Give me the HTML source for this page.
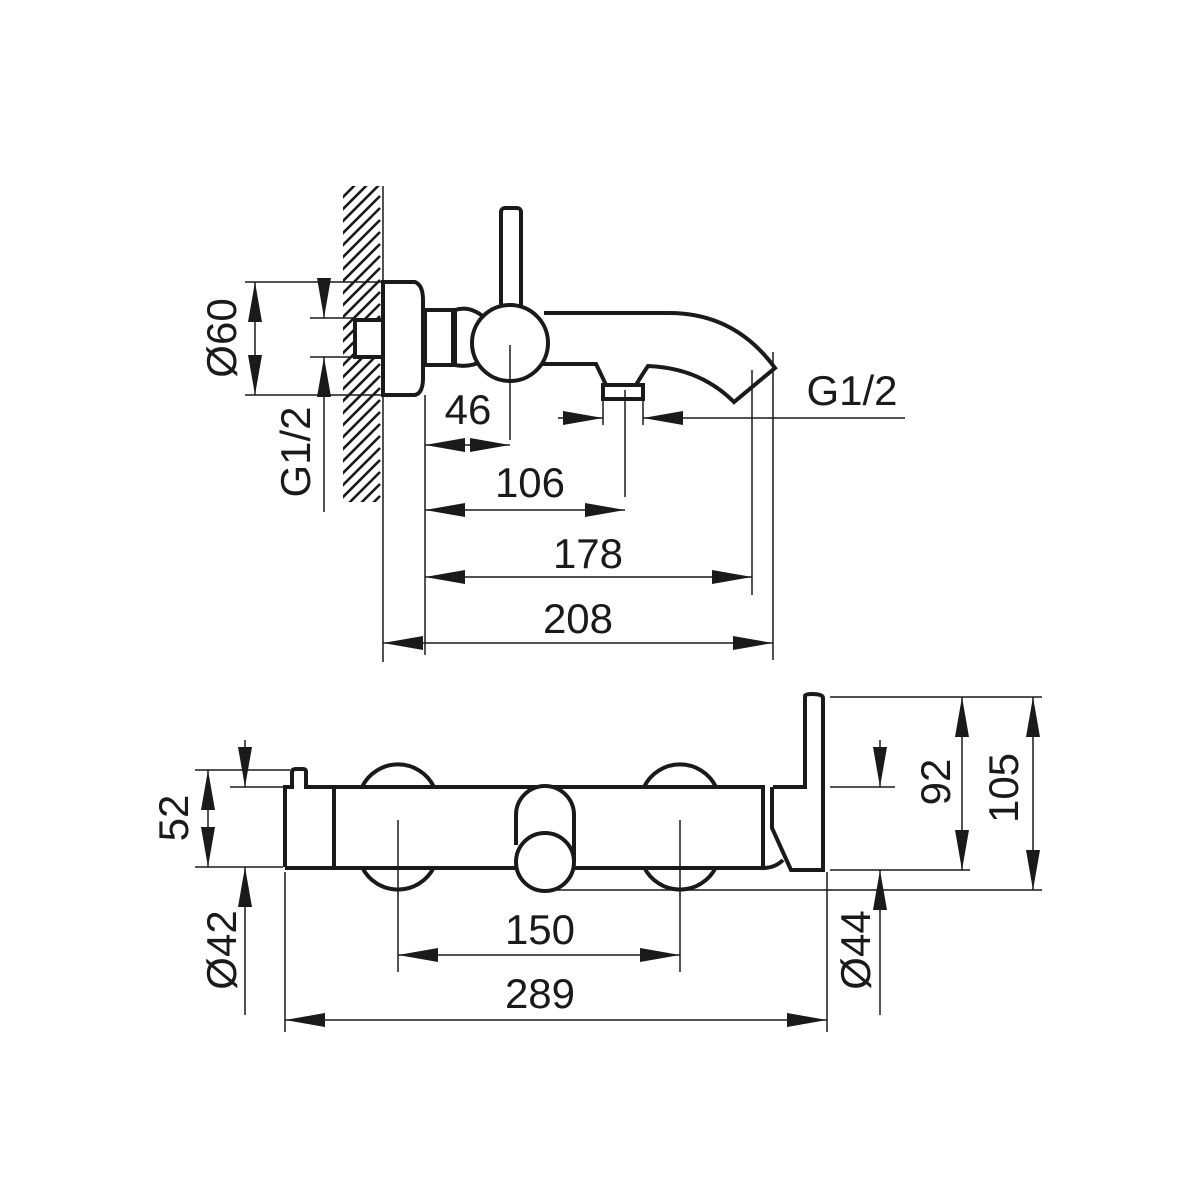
<!DOCTYPE html>
<html><head><style>html,body{margin:0;padding:0;background:#fff}svg{display:block}</style></head><body>
<svg width="1200" height="1200" viewBox="0 0 1200 1200" xmlns="http://www.w3.org/2000/svg">
<defs>
<marker id="b" viewBox="0 0 10 10" refX="10" refY="5" markerWidth="40" markerHeight="14" markerUnits="userSpaceOnUse" orient="auto-start-reverse" preserveAspectRatio="none"><path d="M0,0L10,5L0,10z" fill="#1a1a1a"/></marker>
<clipPath id="hc"><rect x="343" y="186" width="40" height="316"/></clipPath>
</defs>
<g fill="none" stroke="#1a1a1a">
<g clip-path="url(#hc)" stroke-width="2.6">
<path d="M340,200l40,-40M340,212l40,-40M340,224l40,-40M340,236l40,-40M340,248l40,-40M340,260l40,-40M340,272l40,-40M340,284l40,-40M340,296l40,-40M340,308l40,-40M340,320l40,-40M340,332l40,-40M340,344l40,-40M340,356l40,-40M340,368l40,-40M340,380l40,-40M340,392l40,-40M340,404l40,-40M340,416l40,-40M340,428l40,-40M340,440l40,-40M340,452l40,-40M340,464l40,-40M340,476l40,-40M340,488l40,-40M340,500l40,-40M340,512l40,-40M340,524l40,-40M340,536l40,-40"/>
</g>
<line x1="383" y1="186" x2="383" y2="662" stroke-width="1.5"/>
<g stroke-width="4" fill="#fff">
<rect x="355" y="320" width="28" height="37"/>
<path d="M383,282H415Q423,285 423,300V378Q423,393 415,395H383Z"/>
<path d="M425,310H453V365H425Z"/>
<path d="M455,310Q470,305 485,318M455,365Q470,368 485,360M455,310V365" />
<rect x="501" y="208" width="20" height="100" rx="4"/>
<path d="M544,313H669Q735,313 775,368L734,402Q700,368 648,366Q640,378 636,385H606Q600,372 596,364H540"/>
<circle cx="510" cy="343" r="38"/>
<rect x="603" y="385" width="40" height="14"/>
</g>
<g stroke-width="1.5">
<line x1="245" y1="282" x2="383" y2="282"/><line x1="245" y1="395" x2="383" y2="395"/>
<line x1="310" y1="318" x2="355" y2="318"/><line x1="310" y1="357" x2="355" y2="357"/>
<line x1="255" y1="282" x2="255" y2="395" marker-start="url(#b)" marker-end="url(#b)"/>
<line x1="324" y1="285" x2="324" y2="318" marker-end="url(#b)"/>
<line x1="324" y1="512" x2="324" y2="357" marker-end="url(#b)"/>
<line x1="510" y1="345" x2="510" y2="440"/>
<line x1="425" y1="395" x2="425" y2="655"/>
<line x1="425" y1="445" x2="510" y2="445" marker-start="url(#b)" marker-end="url(#b)"/>
<line x1="625" y1="390" x2="625" y2="497"/><line x1="603" y1="398" x2="603" y2="425"/><line x1="643" y1="398" x2="643" y2="425"/>
<line x1="425" y1="510" x2="625" y2="510" marker-start="url(#b)" marker-end="url(#b)"/>
<line x1="752" y1="370" x2="752" y2="595"/>
<line x1="425" y1="577" x2="752" y2="577" marker-start="url(#b)" marker-end="url(#b)"/>
<line x1="773" y1="352" x2="773" y2="660"/>
<line x1="383" y1="643" x2="773" y2="643" marker-start="url(#b)" marker-end="url(#b)"/>
<line x1="558" y1="418" x2="603" y2="418" marker-end="url(#b)"/>
<line x1="905" y1="418" x2="643" y2="418" marker-end="url(#b)"/>
</g>
<g stroke-width="4" fill="#fff">
<path d="M362,787A40,40 0 0 1 434,787M644,787A40,40 0 0 1 716,787"/>
<path d="M362,867A40,40 0 0 0 434,867M644,867A40,40 0 0 0 716,867"/>
<path d="M285,867V787H292V772Q292,769 296,769H303Q306,769 306,772V787H763V868H285"/>
<line x1="334" y1="787" x2="334" y2="867"/>
<path d="M516,845V815A29,29 0 0 1 574,815V862"/>
<circle cx="545" cy="862" r="29"/>
<path d="M773,787H805V696Q805,694 812,694Q823,694 823,698V870H791L772,828V787"/>
<path d="M763,868Q775,868 783,860"/>
</g>
<g stroke-width="1.5">
<line x1="195" y1="770" x2="290" y2="770"/><line x1="230" y1="787" x2="283" y2="787"/><line x1="195" y1="867" x2="283" y2="867"/>
<line x1="208" y1="770" x2="208" y2="867" marker-start="url(#b)" marker-end="url(#b)"/>
<line x1="245" y1="740" x2="245" y2="787" marker-end="url(#b)"/>
<line x1="245" y1="1015" x2="245" y2="867" marker-end="url(#b)"/>
<line x1="398" y1="820" x2="398" y2="972"/><line x1="680" y1="820" x2="680" y2="972"/>
<line x1="398" y1="955" x2="680" y2="955" marker-start="url(#b)" marker-end="url(#b)"/>
<line x1="285" y1="872" x2="285" y2="1032"/><line x1="827" y1="872" x2="827" y2="1032"/>
<line x1="285" y1="1020" x2="827" y2="1020" marker-start="url(#b)" marker-end="url(#b)"/>
<line x1="830" y1="697" x2="1042" y2="697"/><line x1="830" y1="787" x2="895" y2="787"/><line x1="830" y1="870" x2="970" y2="870"/><line x1="545" y1="890" x2="1042" y2="890"/>
<line x1="962" y1="697" x2="962" y2="870" marker-start="url(#b)" marker-end="url(#b)"/>
<line x1="1033" y1="697" x2="1033" y2="890" marker-start="url(#b)" marker-end="url(#b)"/>
<line x1="880" y1="740" x2="880" y2="787" marker-end="url(#b)"/>
<line x1="880" y1="1015" x2="880" y2="870" marker-end="url(#b)"/>
</g>
</g>
<g font-family="Liberation Sans, sans-serif" font-size="42" fill="#1a1a1a" text-anchor="middle">
<text x="468" y="424">46</text>
<text x="530" y="497">106</text>
<text x="588" y="568">178</text>
<text x="578" y="633">208</text>
<text x="852" y="405">G1/2</text>
<text transform="translate(236,338) rotate(-90)">Ø60</text>
<text transform="translate(310,452) rotate(-90)">G1/2</text>
<text transform="translate(188,818) rotate(-90)">52</text>
<text transform="translate(236,950) rotate(-90)">Ø42</text>
<text x="540" y="944">150</text>
<text x="540" y="1008">289</text>
<text transform="translate(950,782) rotate(-90)">92</text>
<text transform="translate(1018,788) rotate(-90)">105</text>
<text transform="translate(870,950) rotate(-90)">Ø44</text>
</g>
</svg>
</body></html>
